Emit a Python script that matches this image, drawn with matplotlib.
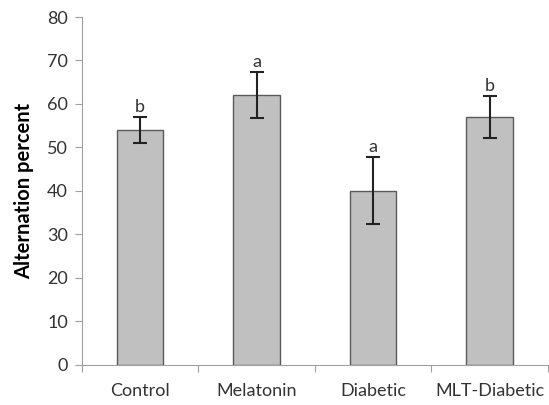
import matplotlib
matplotlib.use("Agg")
import matplotlib.pyplot as plt

categories = ["Control", "Melatonin", "Diabetic", "MLT-Diabetic"]
values = [54, 62, 40, 57]
errors = [3.0, 5.3, 7.7, 4.9]
letters = ["b", "a", "a", "b"]

plt.rcParams['font.family'] = ['Lato', 'DejaVu Sans']

fig = plt.figure(figsize=(5.49, 4.05), dpi=100)
ax = fig.add_axes([0.149, 0.099, 0.849, 0.859])

x = list(range(len(categories)))
ax.bar(x, values, width=0.4, color="#c0c0c0", edgecolor="#5a5a5a", linewidth=1.0, zorder=2)
ax.errorbar(x, values, yerr=errors, fmt="none", ecolor="#222222", elinewidth=1.5,
            capsize=5, capthick=1.5, zorder=3)
for xi, v, e, l in zip(x, values, errors, letters):
    ax.text(xi, v + e + 0.5, l, ha="center", va="bottom", fontsize=13, color="#333333")

ax.set_xlim(-0.5, len(categories) - 0.5)
ax.set_ylim(0, 80)
ax.set_yticks(range(0, 81, 10))
ax.set_xticks([i - 0.5 for i in range(len(categories) + 1)], minor=False)
ax.set_xticklabels([])
ax.set_xticks(x, minor=True)
ax.set_xticklabels(categories, minor=True)
ax.tick_params(axis="x", which="minor", length=0, pad=13, labelsize=13, labelcolor="#333333")
ax.tick_params(axis="x", which="major", length=5, color="#a0a0a0", direction="out")
ax.tick_params(axis="y", length=5, color="#a0a0a0", labelsize=13, labelcolor="#333333", pad=5)

for s in ["top", "right"]:
    ax.spines[s].set_visible(False)
for s in ["left", "bottom"]:
    ax.spines[s].set_color("#a0a0a0")

ax.set_ylabel("Alternation percent", fontsize=14.5, fontweight="bold", labelpad=9)

fig.savefig("out.png", dpi=100)
